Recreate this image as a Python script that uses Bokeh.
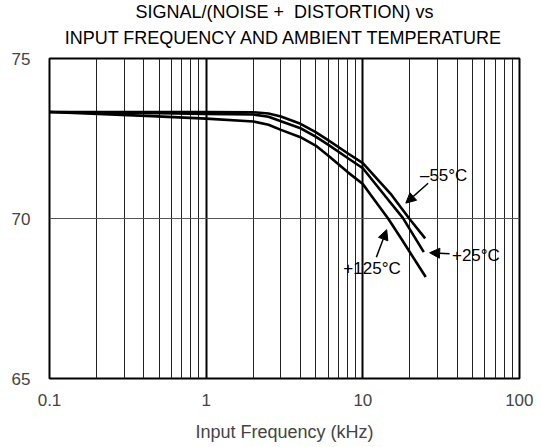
from bokeh.plotting import figure
from bokeh.models import Range1d, FixedTicker, Title, Label, Arrow, NormalHead
from bokeh.embed import file_html
from bokeh.resources import INLINE

# ---- data ----
freq_m55 = [0.1, 1, 2, 2.5, 3, 4, 5, 6, 8, 10, 15, 20, 25]
snd_m55 = [73.33, 73.33, 73.32, 73.28, 73.19, 72.96, 72.70, 72.45, 72.04, 71.73, 70.78, 69.97, 69.38]

freq_p25 = [0.1, 0.5, 1, 2, 2.5, 3, 4, 5, 6, 8, 10, 14, 18, 24.5]
snd_p25 = [73.33, 73.29, 73.27, 73.25, 73.18, 73.04, 72.82, 72.56, 72.31, 71.89, 71.57, 70.68, 70.02, 68.95]

freq_p125 = [0.1, 0.45, 1, 2, 2.5, 3, 4, 5, 6, 8, 10, 11.3, 14.5, 17.9, 25.2]
snd_p125 = [73.33, 73.20, 73.12, 73.03, 72.93, 72.77, 72.54, 72.28, 71.97, 71.45, 71.08, 70.72, 70.00, 69.31, 68.17]

x_major_ticks = [0.1, 1, 10, 100]
x_tick_labels = ["0.1", "1", "10", "100"]
x_minor_ticks = [0.2, 0.3, 0.4, 0.5, 0.6, 0.7, 0.8, 0.9,
                 2, 3, 4, 5, 6, 7, 8, 9,
                 20, 30, 40, 50, 60, 70, 80, 90]
y_ticks = [65, 70, 75]
y_tick_labels = ["65", "70", "75"]
y_grid_ticks = [70]

title_lines = ["SIGNAL/(NOISE +\u00a0 DISTORTION) vs",
               "INPUT FREQUENCY AND AMBIENT TEMPERATURE"]
x_label = "Input Frequency (kHz)"

series_labels = ["\u201355\u00b0C", "+25\u00b0C", "+125\u00b0C"]
label_x = [32.8, 52.7, 11.45]
label_y = [71.34, 68.83, 68.44]
arrow_x_start = [26.1, 35.8, 12.2]
arrow_y_start = [71.10, 68.90, 68.79]
arrow_x_end = [18.8, 26.7, 14.2]
arrow_y_end = [70.48, 68.93, 69.65]

FONT = "Liberation Sans"

p = figure(width=533, height=447, x_axis_type="log",
           x_range=Range1d(0.1, 100), y_range=Range1d(65, 75),
           output_backend="svg", toolbar_location=None, title=None,
           min_border_left=49, min_border_right=14,
           min_border_top=58, min_border_bottom=69)

p.background_fill_color = "white"
p.border_fill_color = "white"
p.outline_line_color = "black"
p.outline_line_width = 2

# titles: add the lower line first so it sits next to the frame
t2 = Title(text=title_lines[1], align="center", text_font=FONT,
           text_font_size="18px", text_font_style="normal", text_color="black",
           standoff=21)
t1 = Title(text=title_lines[0], align="center", text_font=FONT,
           text_font_size="18px", text_font_style="normal", text_color="black",
           standoff=-12)
p.add_layout(t2, "above")
p.add_layout(t1, "above")

# x axis
p.xaxis.ticker = FixedTicker(ticks=x_major_ticks, minor_ticks=x_minor_ticks)
p.xaxis.major_label_overrides = {t: s for t, s in zip(x_major_ticks, x_tick_labels)}
p.xaxis.axis_label = x_label
p.xaxis.axis_label_text_font = FONT
p.xaxis.axis_label_text_font_size = "18px"
p.xaxis.axis_label_text_font_style = "normal"
p.xaxis.axis_label_standoff = 13
p.xaxis.major_label_text_font = FONT
p.xaxis.major_label_text_font_size = "17px"
p.xaxis.major_label_standoff = 15
p.xaxis.axis_line_color = None
p.xaxis.major_tick_line_color = None
p.xaxis.minor_tick_line_color = None
p.xaxis.major_tick_out = 0
p.xaxis.minor_tick_out = 0

# y axis
p.yaxis.ticker = FixedTicker(ticks=y_ticks)
p.yaxis.major_label_overrides = {t: s for t, s in zip(y_ticks, y_tick_labels)}
p.yaxis.major_label_text_font = FONT
p.yaxis.major_label_text_font_size = "17px"
p.yaxis.major_label_standoff = 19
p.yaxis.axis_line_color = None
p.yaxis.major_tick_line_color = None
p.yaxis.minor_tick_line_color = None
p.yaxis.major_tick_out = 0
p.yaxis.minor_tick_out = 0

# grids
p.xgrid.ticker = FixedTicker(ticks=x_major_ticks, minor_ticks=x_minor_ticks)
p.xgrid.grid_line_color = "black"
p.xgrid.grid_line_width = 2
p.xgrid.minor_grid_line_color = "#222222"
p.xgrid.minor_grid_line_width = 1
p.ygrid.ticker = FixedTicker(ticks=y_grid_ticks)
p.ygrid.grid_line_color = "#555555"
p.ygrid.grid_line_width = 1

# curves
for fx, fy in [(freq_m55, snd_m55), (freq_p25, snd_p25), (freq_p125, snd_p125)]:
    p.line(fx, fy, line_color="black", line_width=2.6, line_join="round")

# annotations
for txt, lx, ly, xs, ys, xe, ye in zip(series_labels, label_x, label_y,
                                       arrow_x_start, arrow_y_start,
                                       arrow_x_end, arrow_y_end):
    p.add_layout(Label(x=lx, y=ly, text=txt, text_align="center",
                       text_baseline="middle", text_font=FONT,
                       text_font_size="17px", text_color="black"))
    p.add_layout(Arrow(x_start=xs, y_start=ys, x_end=xe, y_end=ye,
                       line_color="black", line_width=1.5,
                       end=NormalHead(size=10, fill_color="black",
                                      line_color="black", line_width=1)))

open("out.html", "w").write(file_html(p, INLINE))
